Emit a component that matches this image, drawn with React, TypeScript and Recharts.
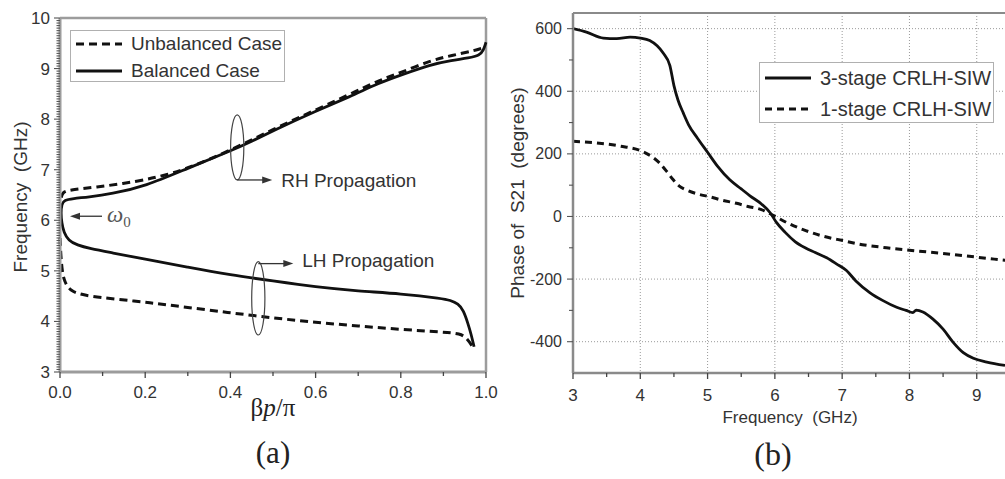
import React from "react";
import {
  LineChart,
  Line,
  XAxis,
  YAxis,
  CartesianGrid,
  ReferenceLine,
  ReferenceDot,
  Legend,
} from "recharts";

const SANS = "'Liberation Sans', Arial, sans-serif";
const SERIF = "'Liberation Serif', 'Times New Roman', serif";
const AXIS_A = "#9c9c9c";
const AXIS_B = "#8a8a8a";
const TXT = "#333";

// (a) dispersion diagram, rows are [βp/π, frequency in GHz]
const balancedCase = [
  [0.972, 3.5], [0.965, 3.75], [0.958, 3.95], [0.947, 4.22], [0.935, 4.35],
  [0.915, 4.42], [0.9, 4.45], [0.8, 4.55], [0.7, 4.6], [0.6, 4.68],
  [0.5, 4.8], [0.4, 4.92], [0.3, 5.07], [0.2, 5.23], [0.12, 5.36],
  [0.07, 5.44], [0.04, 5.51], [0.02, 5.6], [0.009, 5.76], [0.004, 5.95],
  [0.002, 6.15], [0.004, 6.32], [0.01, 6.4], [0.03, 6.43], [0.066, 6.46],
  [0.12, 6.52], [0.2, 6.67], [0.3, 7.03], [0.4, 7.37], [0.45, 7.56],
  [0.5, 7.77], [0.6, 8.16], [0.68, 8.44], [0.75, 8.72], [0.8, 8.87],
  [0.87, 9.08], [0.92, 9.16], [0.96, 9.21], [0.985, 9.26], [0.994, 9.36],
  [1.0, 9.52],
];
const unbalancedRH = [
  [0.003, 6.45], [0.006, 6.55], [0.02, 6.6], [0.08, 6.65], [0.18, 6.76],
  [0.26, 6.92], [0.3, 7.03], [0.4, 7.38], [0.5, 7.8], [0.6, 8.18],
  [0.7, 8.57], [0.75, 8.77], [0.8, 8.92], [0.87, 9.16], [0.92, 9.26],
  [0.97, 9.35], [0.99, 9.4],
];
const unbalancedLH = [
  [0.0, 5.65], [0.002, 5.3], [0.005, 5.0], [0.01, 4.8], [0.023, 4.6],
  [0.06, 4.5], [0.18, 4.4], [0.26, 4.32], [0.4, 4.17], [0.5, 4.07],
  [0.6, 3.98], [0.7, 3.91], [0.8, 3.84], [0.9, 3.79], [0.94, 3.76],
  [0.955, 3.67], [0.97, 3.48],
];

const betaTicks = [0, 0.1, 0.2, 0.3, 0.4, 0.5, 0.6, 0.7, 0.8, 0.9, 1.0];
const betaLabels = [0, 0.2, 0.4, 0.6, 0.8, 1.0];
const freqLabelsA = [3, 4, 5, 6, 7, 8, 9, 10];
// dense ruler of minor ticks on the frequency axis
const freqTicksA = Array.from({ length: 141 }, (_, i) => Math.round((3 + i * 0.05) * 100) / 100);

// (b) phase of S21, rows are [frequency in GHz, degrees]
const stage3 = [
  [3, 600], [3.2, 589], [3.45, 570], [3.65, 568], [3.85, 573], [4.0, 570],
  [4.14, 562], [4.25, 545], [4.34, 522], [4.44, 482], [4.5, 418], [4.56, 372],
  [4.64, 330], [4.72, 292], [4.85, 250], [5.0, 205], [5.15, 160], [5.33, 117],
  [5.5, 88], [5.63, 66], [5.8, 40], [5.93, 12], [6.02, -18], [6.15, -50],
  [6.3, -80], [6.45, -100], [6.6, -115], [6.77, -132], [6.92, -152], [7.06, -172],
  [7.2, -205], [7.41, -243], [7.6, -268], [7.81, -290], [7.95, -300], [8.05, -307],
  [8.1, -299], [8.2, -305], [8.35, -328], [8.5, -360], [8.65, -402], [8.8, -435],
  [8.95, -453], [9.15, -465], [9.42, -476],
];
const stage1 = [
  [3, 240], [3.35, 235], [3.7, 225], [4.04, 207], [4.18, 190], [4.29, 170],
  [4.4, 142], [4.49, 117], [4.58, 97], [4.69, 84], [4.85, 72], [5.03, 63],
  [5.2, 53], [5.43, 42], [5.6, 32], [5.8, 22], [5.98, 3], [6.2, -22],
  [6.42, -42], [6.7, -62], [7.01, -77], [7.3, -90], [7.66, -100], [8.0, -108],
  [8.5, -118], [9.0, -130], [9.42, -140],
];

const freqTicksB = [3, 3.5, 4, 4.5, 5, 5.5, 6, 6.5, 7, 7.5, 8, 8.5, 9];
const freqLabelsB = [3, 4, 5, 6, 7, 8, 9];
const phaseTicks = [-400, -300, -200, -100, 0, 100, 200, 300, 400, 500, 600];
const phaseLabels = [-400, -200, 0, 200, 400, 600];

const toPts = (rows: number[][]) => rows.map(([x, y]) => ({ x, y }));
const isIn = (list: number[], v: number) => list.some((l) => Math.abs(l - v) < 1e-6);

function makeXTick(labels: number[], fmt: (v: number) => string, fontSize: number, dy: number) {
  return (p: any) => {
    const v = p.payload.value;
    const major = isIn(labels, v);
    return (
      <g>
        <line x1={p.x} x2={p.x} y1={p.y} y2={p.y + (major ? 6 : 4)} stroke="#444" strokeWidth={1.3} />
        {major && (
          <text x={p.x} y={p.y + dy} textAnchor="middle" fontSize={fontSize} fontFamily={SANS} fill={TXT}>
            {fmt(v)}
          </text>
        )}
      </g>
    );
  };
}

function makeYTick(labels: number[], fontSize: number, gap: number, minorLen: number) {
  return (p: any) => {
    const v = p.payload.value;
    const major = isIn(labels, v);
    return (
      <g>
        <line x1={p.x} x2={p.x - (major ? 6 : minorLen)} y1={p.y} y2={p.y} stroke="#555" strokeWidth={1.1} />
        {major && (
          <text x={p.x - gap} y={p.y} dy="0.35em" textAnchor="end" fontSize={fontSize} fontFamily={SANS} fill={TXT}>
            {v}
          </text>
        )}
      </g>
    );
  };
}

function Arrow({ x1, x2, y }: { x1: number; x2: number; y: number }) {
  const d = Math.sign(x2 - x1);
  return (
    <g>
      <line x1={x1} x2={x2 - d * 6} y1={y} y2={y} stroke="#333" strokeWidth={1.3} />
      <polygon points={`${x2},${y} ${x2 - d * 10},${y - 3.5} ${x2 - d * 10},${y + 3.5}`} fill="#333" />
    </g>
  );
}

function Bracket({ cx, cy, ry, top, text }: { cx: number; cy: number; ry: number; top: boolean; text: string }) {
  const ay = top ? cy - ry + 2 : cy + ry;
  return (
    <g>
      <ellipse cx={cx} cy={cy} rx={6.6} ry={ry} fill="none" stroke="#444" strokeWidth={1.2} />
      <Arrow x1={cx} x2={cx + 35} y={ay} />
      <text x={cx + 44} y={ay - (top ? 3 : 0)} dy="0.35em" fontSize={19} fontFamily={SANS} fill={TXT}>
        {text}
      </text>
    </g>
  );
}

function LegendBox({
  width, height, fontSize, rows,
}: {
  width: number; height: number; fontSize: number;
  rows: { label: string; dash?: string; top: number }[];
}) {
  return (
    <div
      style={{
        position: "relative", width, height, boxSizing: "border-box",
        border: "1.5px solid #b0b0b0", background: "#fff",
      }}
    >
      {rows.map((r) => (
        <div key={r.label} style={{ position: "absolute", left: 4, top: r.top - 12, height: 24, display: "flex", alignItems: "center" }}>
          <svg width={48} height={8} style={{ display: "block" }}>
            <line x1={1} x2={47} y1={4} y2={4} stroke="#111" strokeWidth={3} strokeDasharray={r.dash} />
          </svg>
          <span style={{ marginLeft: 8, fontFamily: SANS, fontSize, color: TXT, whiteSpace: "pre" }}>{r.label}</span>
        </div>
      ))}
    </div>
  );
}

function PanelA() {
  return (
    <LineChart width={500} height={479} margin={{ top: 18, right: 14, bottom: 77, left: 0 }}>
      <XAxis
        dataKey="x" type="number" domain={[0, 1]} ticks={betaTicks} interval={0}
        height={30} tickSize={0} tickMargin={0} tickLine={false}
        axisLine={{ stroke: AXIS_A, strokeWidth: 3 }}
        tick={makeXTick(betaLabels, (v) => v.toFixed(1), 17, 26)}
        label={{
          content: (p: any) => {
            const vb = p.viewBox || { x: 60, y: 372, width: 426 };
            const cx = vb.x + vb.width / 2;
            return (
              <g fontFamily={SERIF} fill="#222">
                <text x={cx} y={vb.y + 44} textAnchor="middle" fontSize={25}>
                  β<tspan fontStyle="italic">p</tspan>/π
                </text>
                <text x={cx} y={vb.y + 91} textAnchor="middle" fontSize={31}>(a)</text>
              </g>
            );
          },
        }}
      />
      <YAxis
        dataKey="y" type="number" domain={[3, 10]} ticks={freqTicksA} interval={0}
        width={60} tickSize={0} tickMargin={0} tickLine={false}
        axisLine={{ stroke: AXIS_A, strokeWidth: 3 }}
        tick={makeYTick(freqLabelsA, 17, 10, 3.5)}
        label={{
          content: () => (
            <text
              x={20} y={197} transform="rotate(-90 20 197)" textAnchor="middle" dy="0.35em"
              fontSize={19} fontFamily={SANS} fill={TXT} style={{ whiteSpace: "pre" }}
            >
              Frequency  (GHz)
            </text>
          ),
        }}
      />
      <ReferenceLine y={10} stroke={AXIS_A} strokeWidth={2.5} />
      <ReferenceLine x={1} stroke={AXIS_A} strokeWidth={2.5} />
      <Line data={toPts(unbalancedRH)} dataKey="y" name="Unbalanced Case" type="basis" stroke="#111"
        strokeWidth={3} strokeDasharray="8 5" dot={false} isAnimationActive={false} />
      <Line data={toPts(unbalancedLH)} dataKey="y" name="Unbalanced Case LH" legendType="none" type="basis"
        stroke="#111" strokeWidth={3} strokeDasharray="8 5" dot={false} isAnimationActive={false} />
      <Line data={toPts(balancedCase)} dataKey="y" name="Balanced Case" type="basis" stroke="#111"
        strokeWidth={2.8} dot={false} isAnimationActive={false} />
      <ReferenceDot x={0.416} y={7.44} r={1} fill="none" stroke="none"
        shape={(p: any) => <Bracket cx={p.cx} cy={p.cy} ry={32.5} top={false} text="RH Propagation" />} />
      <ReferenceDot x={0.4655} y={4.457} r={1} fill="none" stroke="none"
        shape={(p: any) => <Bracket cx={p.cx} cy={p.cy} ry={36.7} top={true} text="LH Propagation" />} />
      <ReferenceDot x={0.0235} y={6.08} r={1} fill="none" stroke="none"
        shape={(p: any) => (
          <g>
            <Arrow x1={p.cx + 32} x2={p.cx} y={p.cy} />
            <text x={p.cx + 37} y={p.cy + 6} fontFamily={SERIF} fontStyle="italic" fontSize={23} fill="#555">
              ω<tspan fontStyle="normal" fontSize={15} dy={5}>0</tspan>
            </text>
          </g>
        )} />
      <Legend
        layout="vertical" align="center" verticalAlign="middle"
        wrapperStyle={{ left: 70, top: 30, width: 215, height: 52 }}
        content={() => (
          <LegendBox width={215} height={52} fontSize={19}
            rows={[
              { label: "Unbalanced Case", dash: "8 5", top: 13 },
              { label: "Balanced Case", top: 40 },
            ]} />
        )}
      />
    </LineChart>
  );
}

function PanelB() {
  return (
    <LineChart width={505} height={479} margin={{ top: 13, right: 0, bottom: 76, left: 0 }}>
      <CartesianGrid
        stroke="#9a9a9a" strokeDasharray="1 2" strokeWidth={1}
        horizontalValues={phaseLabels} verticalValues={[4, 5, 6, 7, 8, 9]}
      />
      <XAxis
        dataKey="x" type="number" domain={[3, 9.42]} ticks={freqTicksB} interval={0} allowDataOverflow
        height={30} tickSize={0} tickMargin={0} tickLine={false}
        axisLine={{ stroke: AXIS_B, strokeWidth: 2.5 }}
        tick={makeXTick(freqLabelsB, (v) => String(v), 17, 28)}
        label={{
          content: (p: any) => {
            const vb = p.viewBox || { x: 73, y: 373, width: 432 };
            return (
              <g>
                <text x={290} y={vb.y + 50} textAnchor="middle" fontSize={17} fontFamily={SANS} fill={TXT}
                  style={{ whiteSpace: "pre" }}>
                  Frequency  (GHz)
                </text>
                <text x={273} y={vb.y + 92} textAnchor="middle" fontSize={32} fontFamily={SERIF} fill="#222">(b)</text>
              </g>
            );
          },
        }}
      />
      <YAxis
        dataKey="y" type="number" domain={[-500, 650]} ticks={phaseTicks} interval={0} allowDataOverflow
        width={73} tickSize={0} tickMargin={0} tickLine={false}
        axisLine={{ stroke: AXIS_B, strokeWidth: 2.5 }}
        tick={makeYTick(phaseLabels, 16, 11, 4)}
        label={{
          content: () => (
            <text
              x={17} y={193} transform="rotate(-90 17 193)" textAnchor="middle" dy="0.35em"
              fontSize={19} fontFamily={SANS} fill={TXT} style={{ whiteSpace: "pre" }}
            >
              Phase of  S21  (degrees)
            </text>
          ),
        }}
      />
      <ReferenceLine y={650} stroke={AXIS_B} strokeWidth={2} />
      <Line data={toPts(stage3)} dataKey="y" name="3-stage CRLH-SIW" type="monotone" stroke="#111"
        strokeWidth={2.8} dot={false} isAnimationActive={false} />
      <Line data={toPts(stage1)} dataKey="y" name="1-stage CRLH-SIW" type="monotone" stroke="#111"
        strokeWidth={3} strokeDasharray="7 5" dot={false} isAnimationActive={false} />
      <Legend
        layout="vertical" align="center" verticalAlign="middle"
        wrapperStyle={{ left: 259, top: 62, width: 235, height: 61 }}
        content={() => (
          <LegendBox width={235} height={61} fontSize={20}
            rows={[
              { label: "3-stage CRLH-SIW", top: 15 },
              { label: "1-stage CRLH-SIW", dash: "7 5", top: 46 },
            ]} />
        )}
      />
    </LineChart>
  );
}

export default function App() {
  return (
    <div style={{ position: "absolute", left: 0, top: 0, width: 1005, height: 479, background: "#fff", overflow: "hidden" }}>
      <div style={{ position: "absolute", left: 0, top: 0 }}>
        <PanelA />
      </div>
      <div style={{ position: "absolute", left: 500, top: 0 }}>
        <PanelB />
      </div>
    </div>
  );
}
